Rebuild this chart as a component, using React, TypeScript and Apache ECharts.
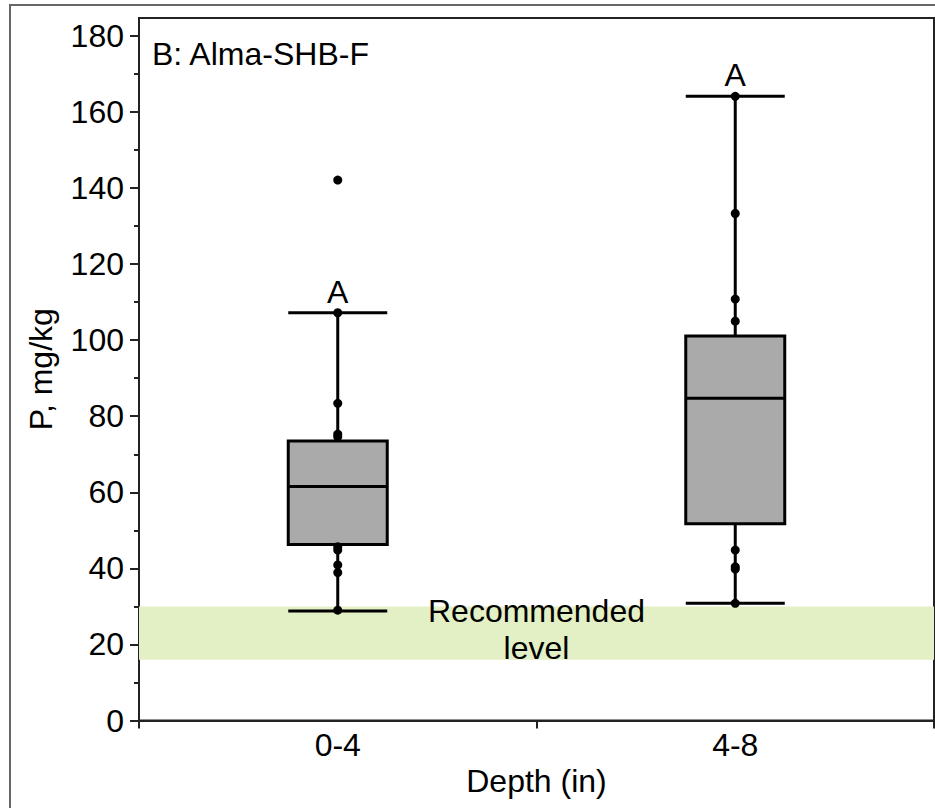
import React, { useEffect, useRef } from "react";
import * as echarts from "echarts";

const categories = ["0-4", "4-8"];
// [lower whisker, Q1, median, Q3, upper whisker]
const boxStats = [
  [28.8, 46.3, 61.5, 73.5, 107.2],
  [30.8, 51.7, 84.7, 101.1, 164.1],
];
const points04 = [107.2, 83.4, 75.3, 74.6, 45.7, 44.8, 40.9, 38.9, 29.0];
const points48 = [164.1, 133.3, 110.8, 105.0, 44.8, 40.4, 39.8, 30.8];
const outliers04 = [142.1];
const groupLetters = ["A", "A"];
const recommendedRange = [16, 30];
const majorTicks = [0, 20, 40, 60, 80, 100, 120, 140, 160, 180];
const minorTicks = [10, 30, 50, 70, 90, 110, 130, 150, 170];
const yMax = 184.7;

const FONT = "'Liberation Sans', Arial, sans-serif";
const FS = 32;

export default function App() {
  const ref = useRef<HTMLDivElement>(null);
  useEffect(() => {
    document.body.style.margin = "0";
    if (!ref.current) return;
    const chart = echarts.init(ref.current, null, { renderer: "svg" });
    const scatterData = [
      ...points04.map((v) => [0, v]),
      ...points48.map((v) => [1, v]),
      ...outliers04.map((v) => [0, v]),
    ];
    chart.setOption({
      animation: false,
      backgroundColor: "#ffffff",
      textStyle: { fontFamily: FONT },
      title: {
        text: "B: Alma-SHB-F",
        left: 152,
        top: 38,
        padding: 0,
        textStyle: { fontFamily: FONT, fontSize: FS, fontWeight: "normal", color: "#000" },
      },
      graphic: [
        {
          type: "rect",
          shape: { x: 10, y: 5, width: 940, height: 820 },
          style: { fill: "none", stroke: "#666", lineWidth: 2 },
          silent: true,
        },
      ],
      grid: {
        left: 139,
        right: 1,
        top: 18,
        bottom: 87.5,
        show: true,
        borderColor: "#222",
        borderWidth: 2,
        backgroundColor: "transparent",
      },
      xAxis: {
        type: "category",
        data: categories,
        boundaryGap: true,
        name: "Depth (in)",
        nameLocation: "middle",
        nameGap: 39,
        nameTextStyle: { fontFamily: FONT, fontSize: FS, color: "#000" },
        axisLine: { lineStyle: { color: "#222", width: 2 } },
        axisTick: { show: true, length: 8, lineStyle: { color: "#222", width: 2 } },
        axisLabel: { fontFamily: FONT, fontSize: FS, color: "#000", margin: 8 },
        splitLine: { show: false },
      },
      yAxis: [
        {
          type: "value",
          min: 0,
          max: yMax,
          interval: 20,
          name: "P, mg/kg",
          nameLocation: "middle",
          nameGap: 82,
          nameTextStyle: { fontFamily: FONT, fontSize: FS, color: "#000" },
          axisLine: { show: true, lineStyle: { color: "#222", width: 2 } },
          axisTick: {
            show: true,
            length: 9,
            customValues: majorTicks,
            lineStyle: { color: "#222", width: 2 },
          },
          axisLabel: {
            fontFamily: FONT,
            fontSize: FS,
            color: "#000",
            margin: 15,
            customValues: majorTicks,
          },
          splitLine: { show: false },
        },
        {
          type: "value",
          min: 0,
          max: yMax,
          interval: 20,
          position: "left",
          axisLine: { show: false },
          axisTick: {
            show: true,
            length: 5,
            customValues: minorTicks,
            lineStyle: { color: "#222", width: 2 },
          },
          axisLabel: { show: false },
          splitLine: { show: false },
        },
      ],
      series: [
        {
          type: "line",
          data: [],
          z: 0,
          silent: true,
          markArea: {
            silent: true,
            itemStyle: { color: "#e3efc4", opacity: 1 },
            label: {
              show: true,
              position: "inside",
              formatter: "Recommended\nlevel",
              fontFamily: FONT,
              fontSize: FS,
              lineHeight: 37,
              color: "#000",
              offset: [0, -4],
            },
            data: [[{ yAxis: recommendedRange[0] }, { yAxis: recommendedRange[1] }]],
          },
        },
        {
          type: "boxplot",
          data: boxStats,
          boxWidth: [99, 99],
          z: 2,
          itemStyle: { color: "#aaaaaa", borderColor: "#000", borderWidth: 3 },
        },
        {
          type: "scatter",
          data: scatterData,
          z: 3,
          symbol: "circle",
          symbolSize: 9,
          itemStyle: { color: "#000", opacity: 1 },
        },
        {
          type: "scatter",
          data: boxStats.map((b, i) => [i, b[4]]),
          z: 4,
          symbolSize: 0,
          silent: true,
          itemStyle: { color: "#000", opacity: 1 },
          label: {
            show: true,
            position: "top",
            distance: 5,
            formatter: (p: any) => groupLetters[p.dataIndex],
            fontFamily: FONT,
            fontSize: FS,
            color: "#000",
            opacity: 1,
          },
        },
      ],
    });
    return () => chart.dispose();
  }, []);
  return <div ref={ref} style={{ width: 935, height: 808 }} />;
}
